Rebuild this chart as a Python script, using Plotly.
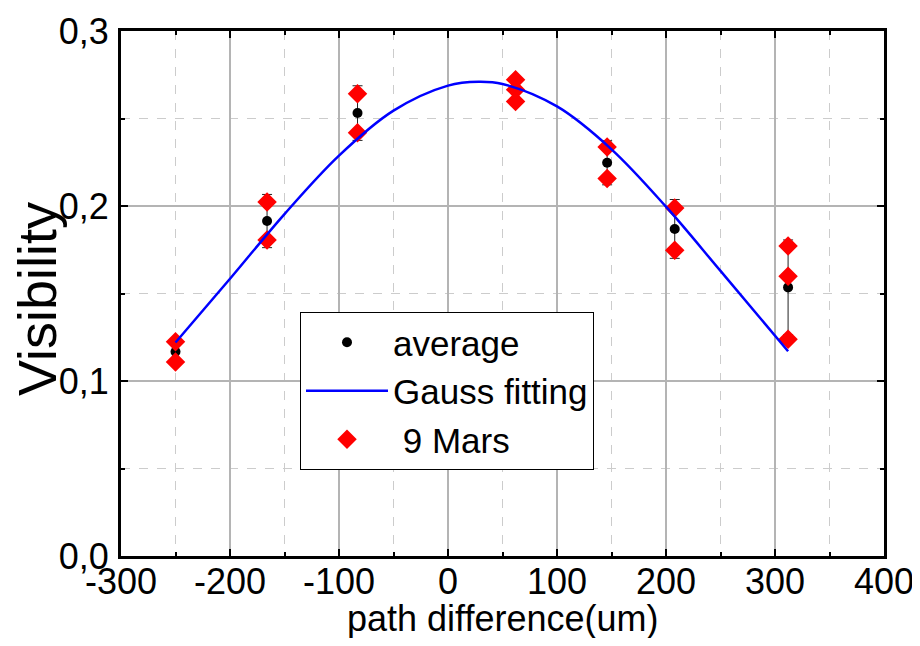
import plotly.graph_objects as go

# ---- data ----
avg_x = [-250, -166, -83, 62, 146, 208, 312]
avg_y = [0.1167, 0.1914, 0.2531, 0.2661, 0.2247, 0.1869, 0.1535]
avg_err = [0.006, 0.0152, 0.0156, 0.006, 0.0126, 0.0168, 0.0271]

mars_x = [-250, -250, -166, -166, -83, -83, 62, 62, 62, 146, 146, 208, 208, 312, 312, 312]
mars_y = [0.1224, 0.1109, 0.2023, 0.1806, 0.2642, 0.2419, 0.2722, 0.2665, 0.2597,
          0.2337, 0.2157, 0.1989, 0.1747, 0.1772, 0.1599, 0.1239]

fit_x = [-250, -200, -150, -100, -50, 0, 28, 50, 100, 150, 200, 250, 312]
fit_y = [0.1220, 0.1584, 0.1954, 0.2288, 0.2545, 0.2688, 0.2710, 0.2697, 0.2569,
         0.2324, 0.1996, 0.1629, 0.1170]

x_ticks = [-300, -200, -100, 0, 100, 200, 300, 400]
x_tick_text = ["-300", "-200", "-100", "0", "100", "200", "300", "400"]
y_ticks = [0.0, 0.1, 0.2, 0.3]
y_tick_text = ["0,0", "0,1", "0,2", "0,3"]
x_title = "path difference(um)"
y_title = "Visibility"

FONT = "Arial, Liberation Sans, sans-serif"

fig = go.Figure()

fig.add_trace(go.Scatter(
    x=avg_x, y=avg_y, mode="markers", name="average", legendrank=1,
    marker=dict(symbol="circle", size=10, color="black"),
    error_y=dict(type="data", array=avg_err, visible=True, color="#222222",
                 thickness=1, width=5),
))
fig.add_trace(go.Scatter(
    x=mars_x, y=mars_y, mode="markers", name=" 9 Mars", legendrank=3,
    marker=dict(symbol="diamond", size=15, color="#ff0000", line=dict(width=0)),
))
fig.add_trace(go.Scatter(
    x=fit_x, y=fit_y, mode="lines", name="Gauss fitting", legendrank=2,
    line=dict(color="#0000ff", width=2.5, shape="spline"),
))

axis_common = dict(
    showline=True, linecolor="black", linewidth=3, mirror="ticks",
    ticks="inside", ticklen=7, tickwidth=2, tickcolor="black",
    showgrid=True, gridcolor="#b4b4b4", gridwidth=1.5,
    zeroline=False, automargin=False,
    tickfont=dict(family=FONT, size=36, color="black"),
)

fig.update_xaxes(
    range=[-300, 400], tickvals=x_ticks, ticktext=x_tick_text,
    minor=dict(dtick=50, tick0=0, ticks="inside", ticklen=4, tickwidth=2,
               tickcolor="black", showgrid=True, gridcolor="#cccccc",
               griddash="dash", gridwidth=1),
    ticklabelstandoff=-8, ticklabeloverflow="allow",
    **axis_common,
)
fig.update_yaxes(
    range=[0, 0.3], tickvals=y_ticks, ticktext=y_tick_text,
    minor=dict(dtick=0.05, tick0=0, ticks="inside", ticklen=4, tickwidth=2,
               tickcolor="black", showgrid=True, gridcolor="#cccccc",
               griddash="dash", gridwidth=1),
    ticklabelstandoff=2,
    **axis_common,
)

fig.add_annotation(
    text=x_title, xref="paper", yref="paper", x=0.5, y=-0.119,
    xanchor="center", yanchor="middle", showarrow=False,
    font=dict(family=FONT, size=36, color="black"),
)
fig.add_annotation(
    text=y_title, xref="paper", yref="paper", x=-0.111, y=0.49,
    xanchor="center", yanchor="middle", showarrow=False, textangle=-90,
    font=dict(family=FONT, size=54, color="black"),
)

fig.update_layout(
    width=904, height=630,
    margin=dict(l=113, r=28, t=23, b=82, autoexpand=False),
    plot_bgcolor="white", paper_bgcolor="white",
    legend=dict(
        x=0.2346, y=0.4648, xanchor="left", yanchor="top",
        bgcolor="white", bordercolor="black", borderwidth=1,
        font=dict(family=FONT, size=35, color="black"),
        itemwidth=82, tracegroupgap=0,
    ),
    showlegend=True,
)

fig.write_html("out.html")
